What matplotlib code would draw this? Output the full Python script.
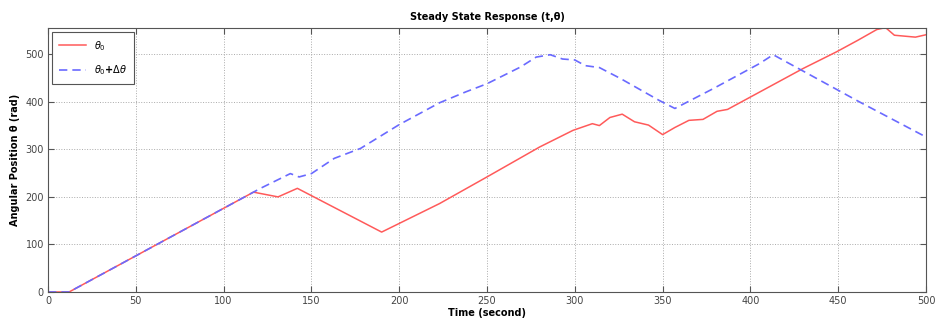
import matplotlib
matplotlib.use("Agg")
import matplotlib.pyplot as plt
from matplotlib.ticker import MultipleLocator

# theta_0 (red, solid)
t_ref = [0, 12, 117, 131, 142, 190, 223, 250, 280, 299, 310, 314, 320, 327,
         334, 342, 350, 357, 365, 373, 381, 387, 400, 415, 430, 449, 461,
         472, 477, 482, 494, 500]
theta_ref = [0, 0, 210, 200, 218, 126, 186, 242, 305, 340, 354, 350, 367, 374,
             358, 351, 331, 346, 361, 363, 380, 384, 410, 440, 470, 505, 529,
             552, 556, 540, 536, 541]

# theta_0 + delta theta (blue, dashed)
t_pert = [0, 12, 117, 121, 138, 143, 150, 163, 178, 200, 223, 238, 250, 269,
          278, 286, 293, 300, 306, 314, 326, 348, 357, 379, 398, 405, 413,
          462, 500]
theta_pert = [0, 0, 210, 218, 249, 242, 249, 281, 302, 352, 398, 421, 438, 473,
              494, 499, 490, 488, 476, 472, 449, 403, 386, 428, 466, 480, 499,
              400, 326]

RED = "#ff5a5a"
BLUE = "#6a6aff"

plt.rcParams.update({
    "font.family": "DejaVu Sans",
    "font.size": 7,
    "axes.linewidth": 0.8,
    "axes.edgecolor": "#555555",
    "xtick.color": "#555555",
    "ytick.color": "#555555",
    "xtick.labelcolor": "#444444",
    "ytick.labelcolor": "#444444",
})

fig = plt.figure(figsize=(9.36, 3.23), dpi=100)
ax = fig.add_axes([0.0513, 0.096, 0.938, 0.817])

ax.plot(t_ref, theta_ref, "-", color=RED, linewidth=1.1, label=r"$\theta_0$")
ax.plot(t_pert, theta_pert, "--", color=BLUE, linewidth=1.2,
        dashes=(5, 3), label=r"$\theta_0$+$\Delta\theta$")

ax.set_xlim(0, 500)
ax.set_ylim(0, 555)
ax.xaxis.set_major_locator(MultipleLocator(50))
ax.yaxis.set_major_locator(MultipleLocator(100))
ax.tick_params(direction="in", length=4, width=0.8, top=True, right=True,
               labelsize=7, pad=3)
ax.grid(True, linestyle=":", color="#aaaaaa", linewidth=0.7)

ax.set_title("Steady State Response (t,θ)", fontsize=7, fontweight="bold", pad=6)
ax.set_xlabel("Time (second)", fontsize=7, fontweight="bold", labelpad=1)
ax.set_ylabel("Angular Position θ (rad)", fontsize=7, fontweight="bold", labelpad=4)

leg = ax.legend(loc="upper left", fontsize=7, frameon=True, fancybox=False,
                edgecolor="#555555", framealpha=1, handlelength=2.8,
                borderpad=0.7, labelspacing=1.1, borderaxespad=0.4)
leg.get_frame().set_linewidth(0.8)
for txt in leg.get_texts():
    txt.set_fontweight("bold")

fig.savefig("out.png", dpi=100)
